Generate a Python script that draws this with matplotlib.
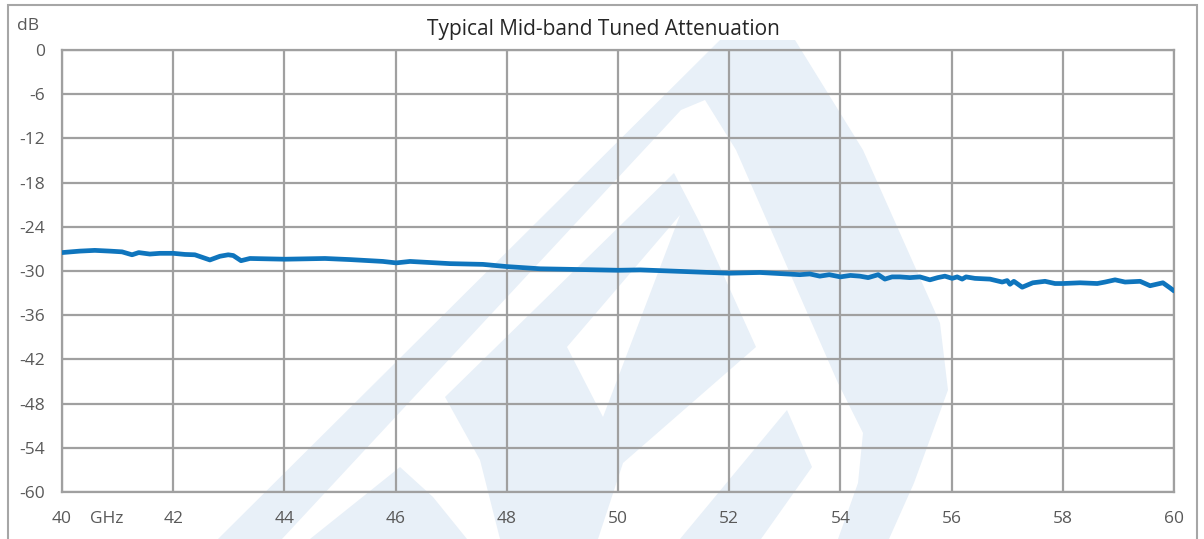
import numpy as np
import matplotlib
matplotlib.use("Agg")
import matplotlib.pyplot as plt
from matplotlib.patches import Polygon, Rectangle

plt.rcParams['font.family'] = ['Open Sans', 'DejaVu Sans']

# data (GHz, dB)
freq_ghz = [40.00, 40.32, 40.59, 40.86, 41.08, 41.26, 41.38, 41.58, 41.76, 42.00,
            42.21, 42.39, 42.66, 42.84, 42.99, 43.08, 43.22, 43.38, 44.01, 44.73,
            45.18, 45.77, 46.01, 46.26, 46.98, 47.57, 48.00, 48.60, 49.32, 50.00,
            50.40, 51.29, 52.00, 52.55, 53.27, 53.45, 53.63, 53.80, 54.00, 54.18,
            54.35, 54.50, 54.68, 54.80, 54.93, 55.07, 55.25, 55.43, 55.61, 55.75,
            55.88, 56.01, 56.10, 56.19, 56.26, 56.42, 56.69, 56.91, 57.00, 57.05,
            57.12, 57.27, 57.46, 57.68, 57.86, 58.00, 58.31, 58.62, 58.76, 58.94,
            59.12, 59.39, 59.57, 59.80, 59.93, 60.00]
atten_db = [-27.5, -27.3, -27.2, -27.3, -27.4, -27.8, -27.5, -27.7, -27.6, -27.6,
            -27.75, -27.8, -28.5, -28.0, -27.8, -27.9, -28.6, -28.3, -28.4, -28.3,
            -28.45, -28.7, -28.9, -28.7, -29.0, -29.1, -29.4, -29.7, -29.8, -29.9,
            -29.85, -30.1, -30.3, -30.2, -30.5, -30.4, -30.7, -30.5, -30.8, -30.6,
            -30.7, -30.9, -30.5, -31.1, -30.8, -30.8, -30.9, -30.8, -31.2, -30.9,
            -30.7, -31.0, -30.8, -31.1, -30.8, -31.0, -31.1, -31.5, -31.3, -31.8,
            -31.4, -32.2, -31.6, -31.4, -31.7, -31.7, -31.6, -31.7, -31.5, -31.2,
            -31.5, -31.4, -32.0, -31.6, -32.3, -32.7]

x_ticks = list(range(40, 61, 2))
y_ticks = list(range(0, -61, -6))

W, H = 1204, 539
fig = plt.figure(figsize=(W / 100, H / 100), dpi=100)


def px(pts):
    return [(x / W, 1 - y / H) for x, y in pts]


# faint logo watermark behind the chart
pale = '#e8f0f8'
shapes = [
    ([(218, 539), (720, 40), (795, 40), (863, 150), (940, 323), (948, 390),
      (914, 483), (889, 539)], pale),
    ([(282, 539), (681, 110), (705, 100), (736, 150), (838, 383), (863, 433),
      (858, 483), (838, 539)], 'white'),
    ([(445, 397), (674, 173), (700, 223), (756, 347), (623, 463), (598, 539),
      (500, 539), (480, 460)], pale),
    ([(567, 347), (680, 215), (603, 417)], 'white'),
    ([(310, 539), (400, 467), (433, 497), (467, 539)], pale),
    ([(680, 539), (787, 410), (812, 467), (761, 539)], pale),
]
for pts, col in shapes:
    fig.patches.append(Polygon(px(pts), closed=True, transform=fig.transFigure,
                               facecolor=col, edgecolor='none', zorder=-5))

# outer border
fig.patches.append(Rectangle((8 / W, -0.1), (1197 - 8) / W, 1.1 - 5 / H,
                             transform=fig.transFigure, fill=False,
                             edgecolor='#a6a6a6', linewidth=1.5, zorder=-4))

ax = fig.add_axes([62 / W, 1 - 492 / H, (1174 - 62) / W, (492 - 50) / H])
ax.set_facecolor('none')
ax.plot(freq_ghz, atten_db, color='#0f75bd', linewidth=3.4, zorder=3,
        solid_joinstyle='round', solid_capstyle='round')

ax.set_xlim(40, 60)
ax.set_ylim(-60, 0)
ax.set_xticks(x_ticks)
ax.set_yticks(y_ticks)
ax.set_xticklabels([str(t) for t in x_ticks])
ax.set_yticklabels([str(t) for t in y_ticks])
ax.grid(True, color='#a0a0a0', linewidth=1.6)
ax.set_axisbelow(True)
for s in ax.spines.values():
    s.set_color('#a0a0a0')
    s.set_linewidth(1.6)
ax.tick_params(length=0, labelsize=12.5, labelcolor='#595959', pad=12)
ax.tick_params(axis='x', pad=14)

fig.text(603 / W, 1 - 30 / H, 'Typical Mid-band Tuned Attenuation',
         ha='center', va='center', fontsize=15, color='#262626')
fig.text(28 / W, 1 - 26 / H, 'dB', ha='center', va='center',
         fontsize=12.5, color='#595959')
fig.text(107 / W, 1 - 519 / H, 'GHz', ha='center', va='center',
         fontsize=12.5, color='#595959')

fig.savefig('out.png', dpi=100)
